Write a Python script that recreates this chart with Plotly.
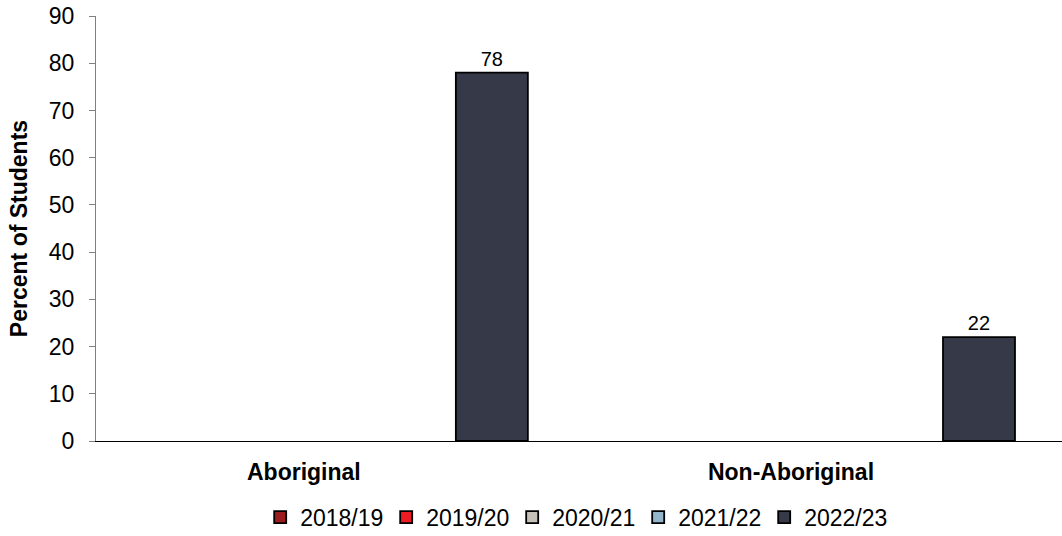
import plotly.graph_objects as go

# Share of students by Aboriginal identity, per school year
categories = ["Aboriginal", "Non-Aboriginal"]
years = ["2018/19", "2019/20", "2020/21", "2021/22", "2022/23"]
values_2018_19 = [None, None]
values_2019_20 = [None, None]
values_2020_21 = [None, None]
values_2021_22 = [None, None]
values_2022_23 = [78, 22]

series = [values_2018_19, values_2019_20, values_2020_21, values_2021_22, values_2022_23]
colors = ["#9B1B1F", "#ED1C24", "#C5C0B8", "#93B5CC", "#363A48"]

FONT = "Liberation Sans, Arial, sans-serif"

fig = go.Figure()
for name, vals, col in zip(years, series, colors):
    fig.add_trace(go.Bar(
        name=name,
        x=categories,
        y=vals,
        marker=dict(color=col, line=dict(color="#000000", width=1.8)),
        text=[("" if v is None else f"{v:.0f}") for v in vals],
        textposition="outside",
        textfont=dict(family=FONT, size=20, color="#000000"),
        cliponaxis=False,
    ))

fig.update_layout(
    width=1062,
    height=536,
    barmode="group",
    bargap=0.261,
    bargroupgap=0,
    plot_bgcolor="#FFFFFF",
    paper_bgcolor="#FFFFFF",
    margin=dict(l=96, r=0, t=16, b=95),
    font=dict(family=FONT, size=20, color="#000000"),
    showlegend=True,
    legend=dict(
        orientation="h",
        xref="container",
        yref="container",
        x=0.245, xanchor="left",
        y=0.035, yanchor="middle",
        font=dict(family=FONT, size=23, color="#000000"),
        entrywidth=81,
        entrywidthmode="pixels",
        itemwidth=30,
        traceorder="normal",
    ),
)

fig.update_xaxes(
    type="category",
    range=[-0.517, 1.466],
    showline=True,
    linecolor="#000000",
    linewidth=1,
    ticks="",
    showgrid=False,
    tickfont=dict(family=FONT, size=23, color="#000000", weight="bold"),
    ticklabelshift=-44,
    ticklabelstandoff=10,
)

fig.update_yaxes(
    range=[0, 90],
    dtick=10,
    showline=True,
    linecolor="#808080",
    linewidth=1,
    ticks="outside",
    ticklen=6,
    tickcolor="#808080",
    showgrid=False,
    zeroline=False,
    tickfont=dict(family=FONT, size=23, color="#000000"),
    ticklabelstandoff=10,
    title=dict(text="<b>Percent of Students</b>", font=dict(family=FONT, size=23, color="#000000"), standoff=14),
)

fig.write_html("out.html")
